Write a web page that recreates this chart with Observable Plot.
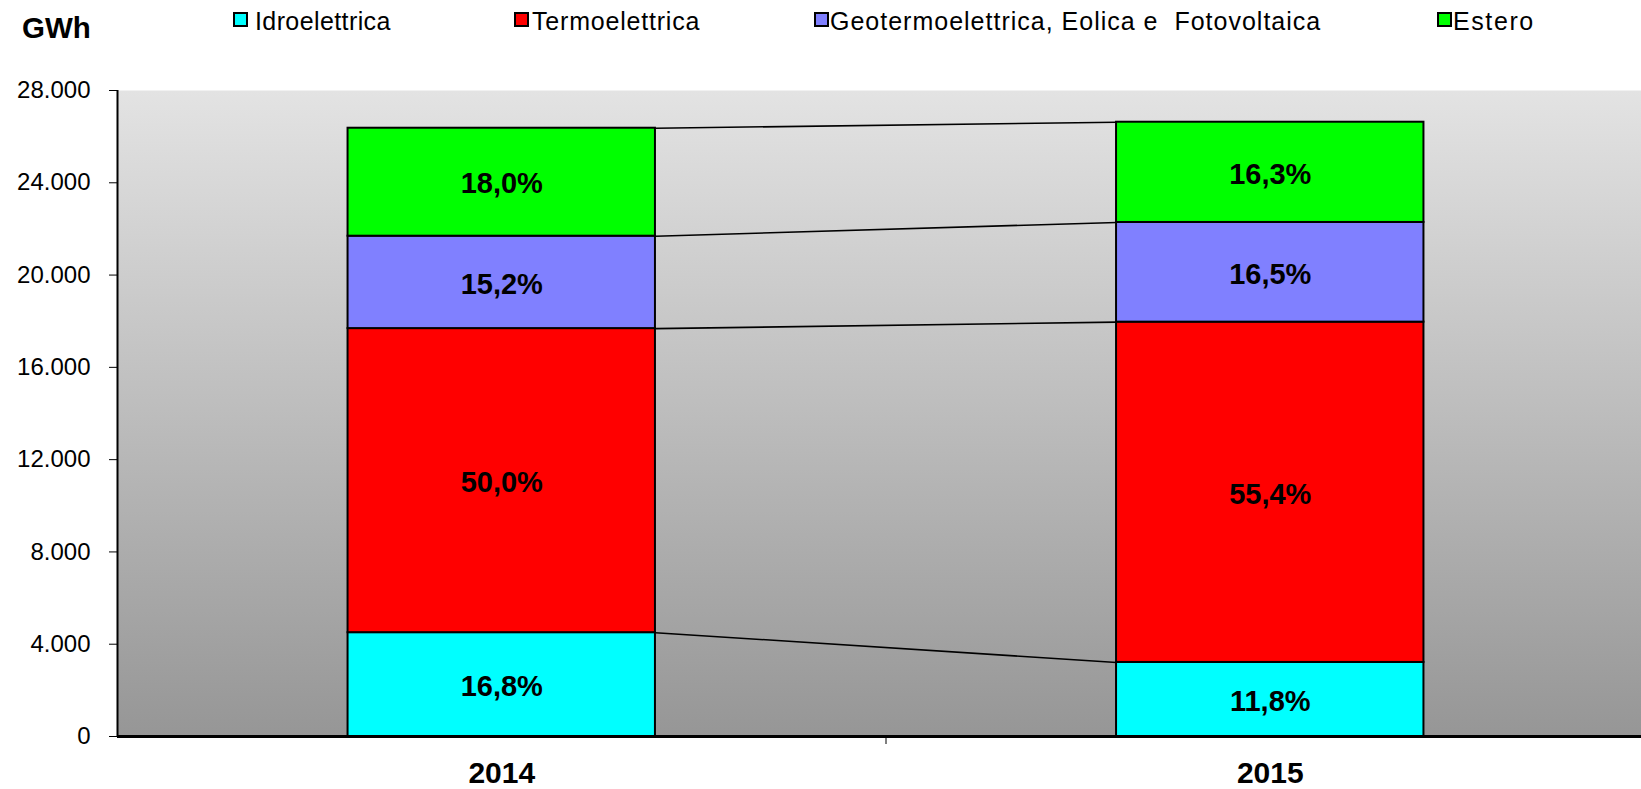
<!DOCTYPE html>
<html>
<head>
<meta charset="utf-8">
<script src="https://cdn.jsdelivr.net/npm/d3@7"></script>
<script src="https://cdn.jsdelivr.net/npm/@observablehq/plot@0.6"></script>
<style>
  html, body { margin: 0; padding: 0; background: #ffffff; }
  body { font-family: "Liberation Sans", Arial, sans-serif; }
  #wrap { position: relative; width: 1641px; height: 789px; overflow: hidden; }
  #unit { position: absolute; left: 22px; top: 13px; font-size: 29.5px; line-height: 29px; font-weight: bold; color: #000; }
  .item { position: absolute; top: 9px; font-size: 25px; line-height: 25px; color: #000; white-space: pre; }
  .sw { position: absolute; top: 12px; width: 11px; height: 11px; border: 2px solid #000; }
  svg { position: absolute; left: 0; top: 0; }
</style>
</head>
<body>
<div id="wrap"></div>
<script>
// ---- data ----
const years = ["2014", "2015"];
const sources = ["Idroelettrica", "Termoelettrica", "Geotermoelettrica, Eolica e Fotovoltaica", "Estero"];
const colors = ["#00ffff", "#ff0000", "#8080ff", "#00ff00"];
const idro = [4500, 3210];
const termo = [13180, 14750];
const geo = [4005, 4320];
const estero = [4680, 4345];
const idroPct = ["16,8%", "11,8%"];
const termoPct = ["50,0%", "55,4%"];
const geoPct = ["15,2%", "16,5%"];
const esteroPct = ["18,0%", "16,3%"];
const yTicks = [0, 4000, 8000, 12000, 16000, 20000, 24000, 28000];
const unitLabel = "GWh";

// ---- build table ----
const series = [idro, termo, geo, estero];
const pcts = [idroPct, termoPct, geoPct, esteroPct];
const rows = [];
years.forEach((yr, i) => {
  let acc = 0;
  series.forEach((s, k) => {
    rows.push({i, year: yr, source: sources[k], value: s[i], y1: acc, y2: acc + s[i], label: pcts[k][i]});
    acc += s[i];
  });
});
const barWidth = 0.4;
const half = barWidth / 2;
const links = sources.map((src, k) => {
  const a = rows.find(r => r.i === 0 && r.source === src);
  const b = rows.find(r => r.i === 1 && r.source === src);
  return {x1: 0 + half, x2: 1 - half, y1: a.y2, y2: b.y2};
});

const defs = () => {
  const d = d3.create("svg:defs");
  const g = d.append("linearGradient").attr("id", "bg").attr("x1", 0).attr("y1", 0).attr("x2", 0).attr("y2", 1);
  g.append("stop").attr("offset", "0%").attr("stop-color", "#e3e3e3");
  g.append("stop").attr("offset", "100%").attr("stop-color", "#969696");
  return d.node();
};

const fmt = d => d3.format(",")(d).replace(/,/g, ".");

const chart = Plot.plot({
  width: 1641,
  height: 789,
  marginLeft: 117,
  marginRight: 0,
  marginTop: 90,
  marginBottom: 53,
  style: {fontFamily: '"Liberation Sans", Arial, sans-serif', color: "#000", background: "transparent"},
  x: {type: "linear", domain: [-0.5, 1.5], range: [117, 1654]},
  y: {domain: [0, 28000], range: [736, 90]},
  color: {domain: sources, range: colors},
  marks: [
    defs,
    Plot.frame({fill: "url(#bg)", stroke: "none"}),
    Plot.link(links, {x1: "x1", y1: "y1", x2: "x2", y2: "y2", stroke: "#000", strokeWidth: 1.6}),
    Plot.rect(rows, {x1: d => d.i - half, x2: d => d.i + half, y1: "y1", y2: "y2", fill: "source", stroke: "#000", strokeWidth: 2}),
    Plot.text(rows, {x: "i", y: d => (d.y1 + d.y2) / 2, text: "label", fontSize: 29, fontWeight: "bold", fill: "#000", dy: 2}),
    Plot.axisY({ticks: yTicks, tickFormat: fmt, tickSize: 8, tickPadding: 19, fontSize: 24, stroke: "#000"}),
    Plot.axisX({ticks: [0.5], tickFormat: () => "", tickSize: 8, stroke: "#000"}),
    Plot.axisX({ticks: [0, 1], tickFormat: i => years[i], tickSize: 0, tickPadding: 25, fontSize: 30, fontWeight: "bold"}),
    Plot.ruleX([-0.5], {y1: 0, y2: 28000, stroke: "#000", strokeWidth: 2}),
    Plot.ruleY([0], {stroke: "#000", strokeWidth: 3})
  ]
});

const wrap = document.getElementById("wrap");
wrap.appendChild(chart);

const unit = document.createElement("div");
unit.id = "unit";
unit.textContent = unitLabel;
wrap.appendChild(unit);

// legend (HTML above the svg)
const swLeft = [233, 514, 814, 1437];
const txtLeft = [255, 532, 830, 1453];
const txtSpacing = [0.4, 0.8, 1.0, 1.6];
const legendText = ["Idroelettrica", "Termoelettrica", "Geotermoelettrica, Eolica e  Fotovoltaica", "Estero"];
sources.forEach((s, k) => {
  const sw = document.createElement("div");
  sw.className = "sw";
  sw.style.left = swLeft[k] + "px";
  sw.style.background = colors[k];
  wrap.appendChild(sw);
  const t = document.createElement("div");
  t.className = "item";
  t.style.left = txtLeft[k] + "px";
  t.style.letterSpacing = txtSpacing[k] + "px";
  t.textContent = legendText[k];
  wrap.appendChild(t);
});
</script>
</body>
</html>
